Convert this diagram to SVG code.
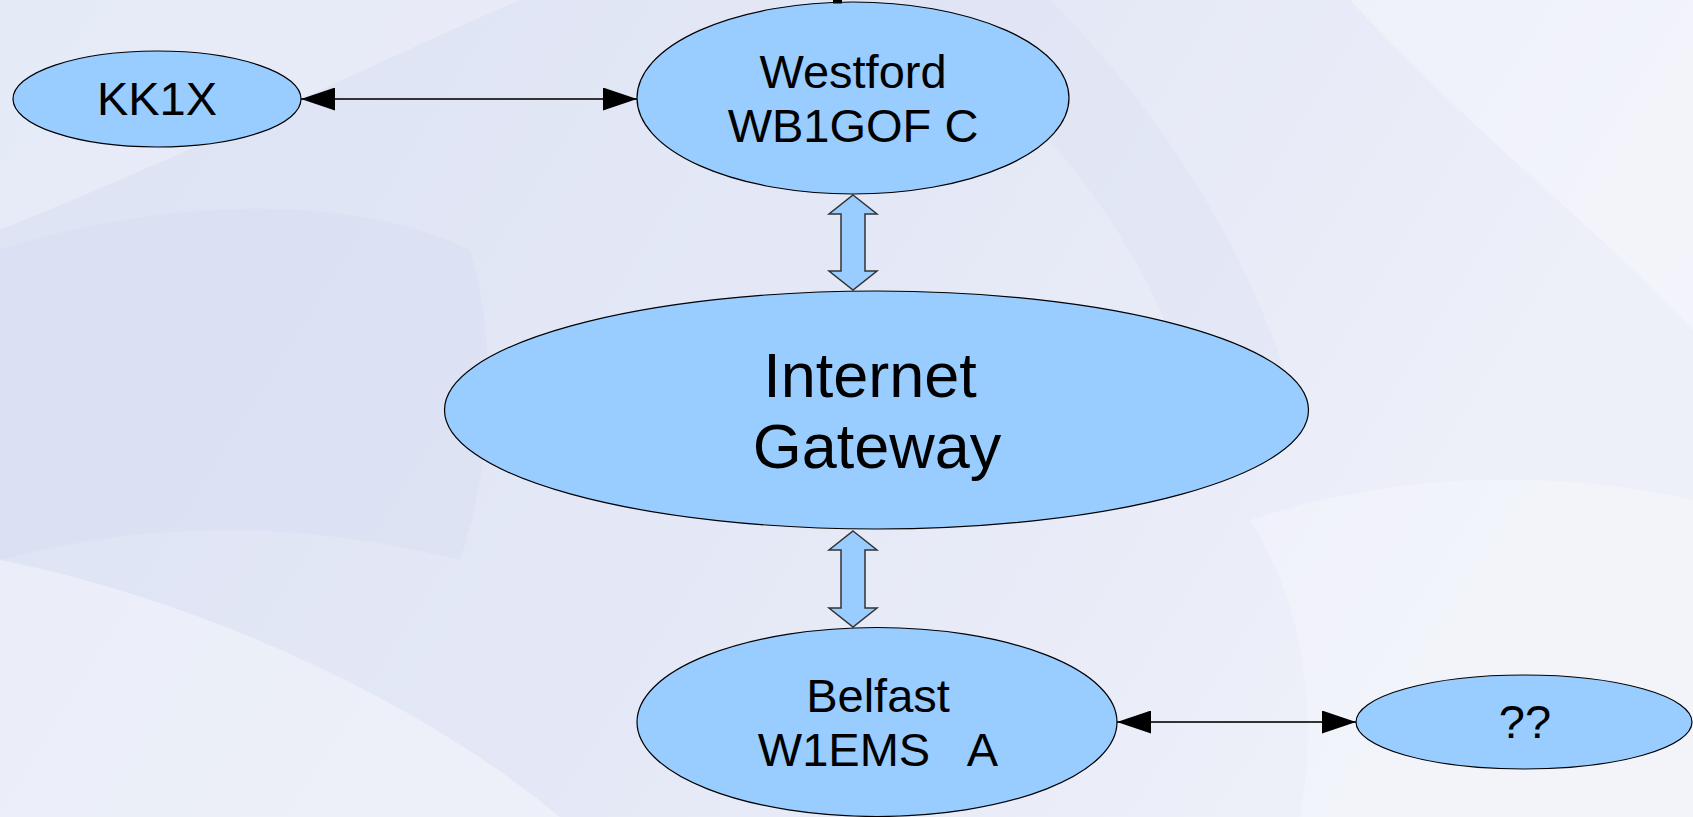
<svg xmlns="http://www.w3.org/2000/svg" width="1693" height="817" viewBox="0 0 1693 817">
  <defs>
    <linearGradient id="bg" x1="0" y1="0" x2="1" y2="0.3">
      <stop offset="0" stop-color="#dde3f4"/>
      <stop offset="0.55" stop-color="#e4e8f6"/>
      <stop offset="1" stop-color="#eef0f9"/>
    </linearGradient>
    <marker id="head" viewBox="0 0 34 23" refX="34" refY="11.5" markerWidth="34" markerHeight="23" markerUnits="userSpaceOnUse" orient="auto-start-reverse">
      <path d="M0,0 L34,11.5 L0,23 z" fill="#000"/>
    </marker>
    <style>
      .node { fill: #99ccff; stroke: #000; stroke-width: 1.2; }
      .lbl { font-family: "Liberation Sans", Arial, sans-serif; fill: #000; text-anchor: middle; }
      .s47 { font-size: 47px; }
      .s63 { font-size: 63px; }
      .line { stroke: #333; stroke-width: 2.2; fill: none; }
      .block { fill: #99ccff; stroke: #333; stroke-width: 1.5; stroke-linejoin: miter; }
      .swl { fill: #ffffff; }
      .swd { fill: #c9d2ee; }
    </style>
  </defs>

  <g id="background">
    <rect x="0" y="0" width="1693" height="817" fill="url(#bg)"/>
    <path class="swl" opacity="0.35" d="M0,560 C200,600 420,700 560,817 L0,817 Z"/>
    <path class="swl" opacity="0.25" d="M0,0 L520,0 C380,60 200,150 0,230 Z"/>
    <path class="swd" opacity="0.18" d="M0,250 C150,200 350,190 470,250 C500,350 490,470 460,560 C300,520 150,520 0,560 Z"/>
    <path class="swl" opacity="0.3" d="M1350,0 L1693,0 L1693,330 C1600,230 1480,140 1350,0 Z"/>
    <path class="swl" opacity="0.25" d="M1250,520 C1400,470 1560,470 1693,500 L1693,817 L1300,817 C1320,700 1300,600 1250,520 Z"/>
    <path class="swd" opacity="0.15" d="M900,0 C1050,120 1150,240 1200,420 L1300,420 C1250,240 1150,100 1050,0 Z"/>
  </g>

  <g id="connectors">
    <line class="line" x1="301" y1="99" x2="637" y2="99" marker-start="url(#head)" marker-end="url(#head)"/>
    <line class="line" x1="1117" y1="722" x2="1356" y2="722" marker-start="url(#head)" marker-end="url(#head)"/>
    <polygon class="block" points="853,195 877,214 865,214 865,271 877,271 853,290 829,271 841,271 841,214 829,214"/>
    <polygon class="block" points="853,531 877,550 865,550 865,608 877,608 853,627 829,608 841,608 841,550 829,550"/>
  </g>

  <g id="node-kk1x">
    <ellipse class="node" cx="157" cy="99" rx="144" ry="48"/>
    <text class="lbl s47" x="157" y="115">KK1X</text>
  </g>

  <g id="node-westford">
    <ellipse class="node" cx="853" cy="98" rx="216" ry="96"/>
    <text class="lbl s47" x="853" y="88">Westford</text>
    <text class="lbl s47" x="853" y="142">WB1GOF C</text>
  </g>

  <g id="node-gateway">
    <ellipse class="node" cx="876.5" cy="410" rx="432" ry="119"/>
    <text class="lbl s63" x="870" y="397">Internet</text>
    <text class="lbl s63" x="877" y="468">Gateway</text>
  </g>

  <g id="node-belfast">
    <ellipse class="node" cx="877" cy="722" rx="240" ry="94.5"/>
    <text class="lbl s47" x="878" y="712">Belfast</text>
    <text class="lbl s47" x="878" y="766" xml:space="preserve">W1EMS   A</text>
  </g>

  <g id="node-unknown">
    <ellipse class="node" cx="1524" cy="722" rx="168" ry="47"/>
    <text class="lbl s47" x="1525" y="738">??</text>
  </g>

  <rect x="833" y="0" width="9" height="3.5" fill="#000"/>
</svg>
